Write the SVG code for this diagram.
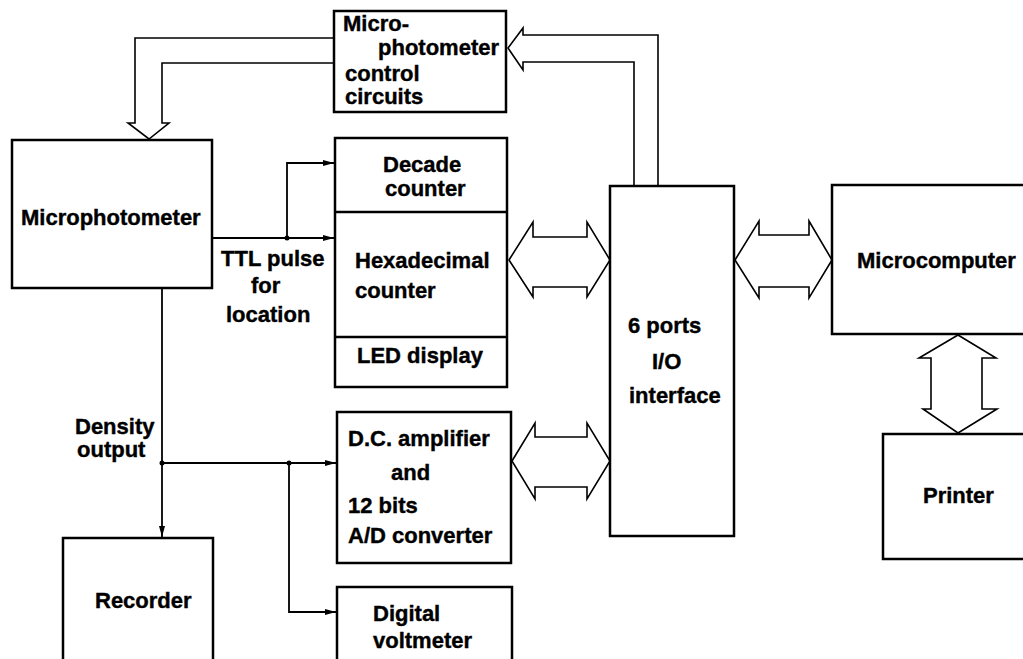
<svg xmlns="http://www.w3.org/2000/svg" width="1023" height="659" viewBox="0 0 1023 659">
<style>
.box{fill:#fff;stroke:#000;stroke-width:2.5}
.div{fill:none;stroke:#000;stroke-width:2.5}
.ln{fill:none;stroke:#000;stroke-width:1.8}
.bus{fill:#fff;stroke:#000;stroke-width:1.6;stroke-linejoin:miter}
text{font-family:"Liberation Sans",Arial,sans-serif;font-weight:bold;font-size:22px;fill:#000;stroke:#000;stroke-width:0.4}
</style>
<defs>
<marker id="ah" markerUnits="userSpaceOnUse" markerWidth="12" markerHeight="8" refX="11" refY="4" orient="auto">
<path d="M0,1 L11,4 L0,7 Z" fill="#000"/>
</marker>
</defs>
<rect width="1023" height="659" fill="#fff"/>
<g id="connectors">
<path class="bus" d="M334,38 L135,38 L135,123 L128,123 L149,139 L169,123 L162,123 L162,63 L334,63"/>
<path class="bus" d="M658,187 L658,35 L523,35 L523,28 L508,48 L523,70 L523,62 L634,62 L634,187"/>
<path class="bus" d="M509,260 L533,222 L533,237 L587,237 L587,222 L610,260 L587,297 L587,287 L533,287 L533,297 Z"/>
<path class="bus" d="M512,461 L535,423 L535,437 L587,437 L587,423 L610,461 L587,499 L587,487 L535,487 L535,499 Z"/>
<path class="bus" d="M735,260 L759,221 L759,235 L809,235 L809,221 L832,260 L809,298 L809,287 L759,287 L759,298 Z"/>
<path class="bus" d="M958,335 L996,358 L982,358 L982,409 L997,409 L958,433 L923,409 L931,409 L931,358 L919,358 Z"/>
<path class="ln" d="M212,238 L334,238" marker-end="url(#ah)"/>
<path class="ln" d="M287,238 L287,163 L334,163" marker-end="url(#ah)"/>
<path class="ln" d="M162,288 L162,537" marker-end="url(#ah)"/>
<path class="ln" d="M162,463 L336,463" marker-end="url(#ah)"/>
<path class="ln" d="M289,463 L289,612 L336,612" marker-end="url(#ah)"/>
<circle cx="287" cy="238" r="2.5" fill="#000"/>
<circle cx="162" cy="463" r="2.5" fill="#000"/>
<circle cx="289" cy="463" r="2.5" fill="#000"/>
</g>
<g id="control">
<rect class="box" x="334" y="11" width="172" height="101"/>
<text x="343" y="31">Micro-</text>
<text x="378" y="55">photometer</text>
<text x="345" y="81">control</text>
<text x="345" y="104">circuits</text>
</g>
<g id="microphotometer">
<rect class="box" x="12" y="140" width="200" height="148"/>
<text x="21" y="225">Microphotometer</text>
</g>
<g id="ttl-label">
<text x="221" y="266">TTL pulse</text>
<text x="251" y="293">for</text>
<text x="226" y="322">location</text>
</g>
<g id="counters">
<rect class="box" x="335" y="138" width="172" height="249"/>
<path class="div" d="M335,212 L507,212 M335,337 L507,337"/>
<text x="383" y="172">Decade</text>
<text x="385" y="196">counter</text>
<text x="355" y="268">Hexadecimal</text>
<text x="355" y="298">counter</text>
<text x="357" y="363">LED display</text>
</g>
<g id="density-label">
<text x="75" y="434">Density</text>
<text x="77" y="457">output</text>
</g>
<g id="adc">
<rect class="box" x="337" y="412" width="174" height="151"/>
<text x="348" y="446">D.C. amplifier</text>
<text x="391" y="480">and</text>
<text x="348" y="513">12 bits</text>
<text x="348" y="543">A/D converter</text>
</g>
<g id="voltmeter">
<rect class="box" x="337" y="587" width="175" height="90"/>
<text x="373" y="621">Digital</text>
<text x="373" y="648">voltmeter</text>
</g>
<g id="recorder">
<rect class="box" x="63" y="538" width="150" height="140"/>
<text x="95" y="608">Recorder</text>
</g>
<g id="io">
<rect class="box" x="610" y="186" width="124" height="350"/>
<text x="628" y="333">6 ports</text>
<text x="652" y="369">I/O</text>
<text x="629" y="403">interface</text>
</g>
<g id="microcomputer">
<rect class="box" x="832" y="185" width="210" height="149"/>
<text x="857" y="268">Microcomputer</text>
</g>
<g id="printer">
<rect class="box" x="883" y="434" width="160" height="125"/>
<text x="923" y="503">Printer</text>
</g>
</svg>
